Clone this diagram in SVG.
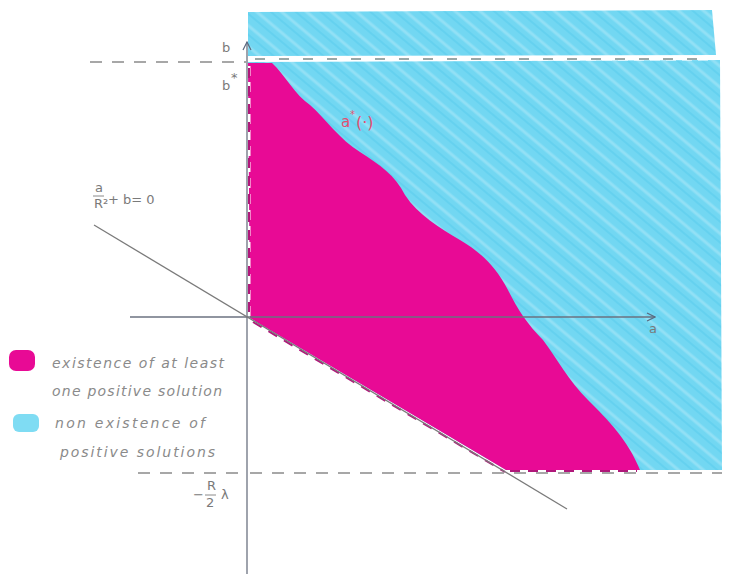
<svg xmlns="http://www.w3.org/2000/svg" width="729" height="574" viewBox="0 0 729 574">
<defs>
<pattern id="hatch" patternUnits="userSpaceOnUse" width="16" height="16" patternTransform="rotate(40)">
<rect width="16" height="16" fill="#72d7f2"/>
<line x1="0" y1="4" x2="16" y2="4" stroke="#a6e6f7" stroke-width="3" opacity="0.6"/>
<line x1="0" y1="11" x2="16" y2="11" stroke="#58cbec" stroke-width="2" opacity="0.5"/>
</pattern>
<marker id="arr" markerWidth="10" markerHeight="10" refX="9" refY="5" orient="auto" markerUnits="userSpaceOnUse">
<path d="M1,1 L9,5 L1,9" fill="none" stroke="#5a6a80" stroke-width="1.2"/>
</marker>
<style>
.ax{stroke:#6b7280;stroke-width:1.3;fill:none}
.gdash{stroke:#8a8a8a;stroke-width:1.6;stroke-dasharray:12 10;fill:none}
.mdash{stroke:#b0187a;stroke-width:2;stroke-dasharray:10 8;fill:none}
.wdash{stroke:#ffffff;stroke-width:3;stroke-dasharray:10 6;fill:none}
.lbl{font-family:"DejaVu Sans",sans-serif;font-size:13px;fill:#7a7a7a}
.hand{font-family:"DejaVu Sans",sans-serif;font-size:14px;fill:#8a8a8a;font-style:italic}
</style>
</defs>
<g id="cyan">
<path d="M248,12 L712,10 L716,55 L248,56 Z" fill="url(#hatch)"/>
<path d="M248,62 L720,60 L722,470 L506,470 L250,318 Z" fill="url(#hatch)"/>
</g>
<g id="magenta">
<path d="M248,63 L272,63 C285,75 295,95 310,105 C325,118 340,140 360,152 C380,165 395,175 405,195 C418,215 440,228 460,240 C480,252 495,265 508,290 C518,310 528,325 543,340 C558,360 568,380 588,400 C608,420 628,440 640,470 L506,470 L250,318 Z" fill="#e80a95"/>
</g>
<g id="boundaries">
<line x1="90" y1="62" x2="246" y2="62" class="gdash"/>
<line x1="250" y1="59" x2="708" y2="59" class="wdash"/>
<line x1="252" y1="59" x2="708" y2="59" stroke="#7a8a8a" stroke-width="1.4" stroke-dasharray="10 14" stroke-dashoffset="-3"/>
<line x1="249" y1="66" x2="249" y2="316" class="wdash"/>
<line x1="249" y1="68" x2="249" y2="316" class="mdash" stroke-width="1.5"/>
<line x1="253" y1="322" x2="505" y2="472" class="mdash"/>
<line x1="138" y1="473" x2="246" y2="473" class="gdash"/>
<line x1="250" y1="473" x2="722" y2="473" class="gdash"/>
<line x1="510" y1="471" x2="637" y2="471" class="mdash"/>
</g>
<g id="axes">
<line x1="247" y1="574" x2="247" y2="42" class="ax" marker-end="url(#arr)"/>
<line x1="130" y1="317" x2="655" y2="317" class="ax" marker-end="url(#arr)"/>
<line x1="94" y1="225" x2="567" y2="509" stroke="#7a7a7a" stroke-width="1.3"/>
</g>
<g id="labels">
<text x="222" y="52" class="lbl">b</text>
<text x="222" y="90" class="lbl">b</text><text x="231" y="82" class="lbl" font-size="9">*</text>
<text x="649" y="333" class="lbl">a</text>
<text x="341" y="127" font-family="DejaVu Sans,sans-serif" font-size="15" fill="#e05070">a</text>
<text x="350" y="118" font-family="DejaVu Sans,sans-serif" font-size="10" fill="#e05070">*</text>
<text x="356" y="128" font-family="DejaVu Sans,sans-serif" font-size="16" fill="#e05070">(·)</text>
<g id="eq1">
<text x="95" y="192" class="lbl" font-size="10">a</text>
<line x1="93" y1="196" x2="104" y2="196" stroke="#8a8a8a" stroke-width="1"/>
<text x="94" y="208" class="lbl" font-size="9">R²</text>
<text x="108" y="204" class="lbl" font-size="14">+ b= 0</text>
</g>
<g id="eq2">
<text x="193" y="499" class="lbl" font-size="14">−</text>
<text x="207" y="490" class="lbl" font-size="9">R</text>
<line x1="205" y1="495" x2="216" y2="495" stroke="#8a8a8a" stroke-width="1"/>
<text x="206" y="507" class="lbl" font-size="9">2</text>
<text x="221" y="499" class="lbl" font-size="15">λ</text>
</g>
</g>
<g id="legend">
<rect x="9" y="350" width="26" height="21" rx="7" fill="#e80a95"/>
<text x="52" y="368" class="hand" textLength="172" lengthAdjust="spacing">existence of at least</text>
<text x="52" y="396" class="hand" textLength="170" lengthAdjust="spacing">one positive solution</text>
<rect x="13" y="414" width="26" height="18" rx="6" fill="#7fdcf3"/>
<text x="55" y="428" class="hand" textLength="150" lengthAdjust="spacing">non existence of</text>
<text x="60" y="457" class="hand" textLength="155" lengthAdjust="spacing">positive solutions</text>
</g>
</svg>
